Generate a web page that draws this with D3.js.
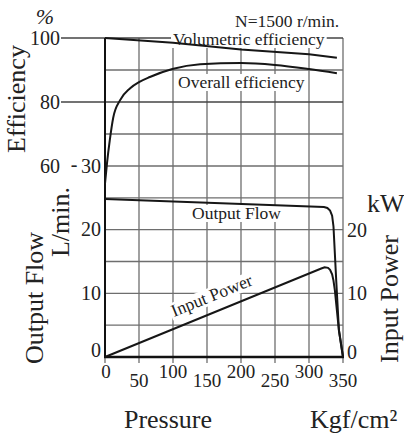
<!DOCTYPE html>
<html>
<head>
<meta charset="utf-8">
<script src="https://cdn.jsdelivr.net/npm/d3@7"></script>
<style>
  body { margin: 0; background: #fff; }
  svg text { font-family: "Liberation Serif", "Times New Roman", serif; fill: #222; }
</style>
</head>
<body>
<div id="chart"></div>
<script>
// data
var pressureTicks = [0, 50, 100, 150, 200, 250, 300, 350];
var effTicks = [60, 70, 80, 90, 100];
var flowTicks = [0, 5, 10, 15, 20, 25];

var volPressure = [0, 100, 200, 300, 341];
var volEff = [100, 98.5, 96.4, 94.9, 93.8];

var overallPressure = [0, 3, 7, 12, 22, 37, 50, 66, 99, 140, 200, 250, 300, 341];
var overallEff = [54.5, 61, 68, 75, 80.5, 84.3, 86.2, 87.8, 90.3, 91.8, 92.2, 91.6, 90.3, 89.0];

var flowPressure = [0, 322, 327, 331, 334, 336, 340, 344, 350];
var flowValues = [24.8, 23.55, 23.4, 23.0, 22.2, 20.5, 12.1, 4.2, 0];

var powerPressure = [0, 318, 323, 328, 331, 334, 336, 338, 344, 350];
var powerValues = [0, 13.9, 14.1, 14.0, 13.7, 13.0, 12.0, 10.5, 4.2, 0];

var w = 404, h = 436;
var plotL = 105, plotR = 343, plotT = 38, plotB = 357;

var svg = d3.select('#chart').append('svg')
  .attr('width', w)
  .attr('height', h);

var x = d3.scaleLinear().domain([0, 350]).range([plotL, plotR]);
var yEff = d3.scaleLinear().domain([60, 100]).range([166, plotT]);
var yFlow = d3.scaleLinear().domain([0, 30]).range([plotB, 166]);

// grid
var grid = svg.append('g').attr('stroke', '#6e6e6e').attr('stroke-width', 1.3);

grid.selectAll('.vgrid')
  .data(pressureTicks)
  .enter()
  .append('line')
    .attr('x1', d => x(d)).attr('x2', d => x(d))
    .attr('y1', plotT).attr('y2', plotB + 6);

grid.selectAll('.egrid')
  .data(effTicks)
  .enter()
  .append('line')
    .attr('x1', d => (d == 100 || d == 80) ? 61 : plotL)
    .attr('x2', plotR)
    .attr('y1', d => yEff(d)).attr('y2', d => yEff(d))
    .attr('stroke', d => (d == 100 || d == 80) ? '#444' : null);

grid.selectAll('.fgrid')
  .data(flowTicks.filter(d => d > 0))
  .enter()
  .append('line')
    .attr('x1', plotL).attr('x2', plotR)
    .attr('y1', d => yFlow(d)).attr('y2', d => yFlow(d));

// frame (left + bottom)
svg.append('line')
  .attr('x1', plotL).attr('x2', plotL).attr('y1', plotT).attr('y2', plotB)
  .attr('stroke', '#111').attr('stroke-width', 2);
svg.append('line')
  .attr('x1', plotL - 1).attr('x2', plotR + 1).attr('y1', plotB).attr('y2', plotB)
  .attr('stroke', '#111').attr('stroke-width', 2.5);

// labels with white background
function boxedLabel(txt, tx, ty, angle) {
  var g = svg.append('g')
    .attr('transform', 'translate(' + tx + ',' + ty + ') rotate(' + (angle || 0) + ')');
  var rect = g.append('rect').attr('fill', '#fff');
  var t = g.append('text')
    .attr('font-size', 17.5)
    .text(txt);
  var bb = t.node().getBBox();
  rect.attr('x', bb.x - 2).attr('y', bb.y + 2)
    .attr('width', bb.width + 4).attr('height', bb.height - 3);
  return g;
}

boxedLabel('Volumetric efficiency', 173, 45);
boxedLabel('Overall efficiency', 178, 88);
boxedLabel('Output Flow', 192, 219);
boxedLabel('Input Power', 174, 317, -22);

svg.append('text')
  .attr('x', 235).attr('y', 27)
  .attr('font-size', 17.5)
  .text('N=1500 r/min.');

// curves
var curves = svg.append('g')
  .attr('fill', 'none')
  .attr('stroke', '#161616')
  .attr('stroke-width', 2);

var volLine = d3.line().x(d => x(d[0])).y(d => yEff(d[1]));
curves.append('path').attr('d', volLine(d3.zip(volPressure, volEff)));

var overallLine = d3.line().x(d => x(d[0])).y(d => yEff(d[1])).curve(d3.curveMonotoneX);
curves.append('path').attr('d', overallLine(d3.zip(overallPressure, overallEff)));

var flowLine = d3.line().x(d => x(d[0])).y(d => yFlow(d[1]));
curves.append('path').attr('d', flowLine(d3.zip(flowPressure, flowValues)));
curves.append('path').attr('d', flowLine(d3.zip(powerPressure, powerValues)));

// left tick labels
svg.selectAll('.efflabel')
  .data([100, 80])
  .enter()
  .append('text')
    .attr('x', 60)
    .attr('y', d => yEff(d) + 6.5)
    .attr('text-anchor', 'end')
    .attr('font-size', 20)
    .text(d => d);

svg.append('text').attr('x', 60).attr('y', yEff(60) + 6.5)
  .attr('text-anchor', 'end').attr('font-size', 20).text('60');
svg.append('text').attr('x', 74).attr('y', yEff(60) + 5)
  .attr('text-anchor', 'middle').attr('font-size', 20).text('-');

svg.selectAll('.flowlabel')
  .data([30, 20, 10])
  .enter()
  .append('text')
    .attr('x', 101)
    .attr('y', d => yFlow(d) + 6.5)
    .attr('text-anchor', 'end')
    .attr('font-size', 20)
    .text(d => d);
svg.append('text').attr('x', 101).attr('y', yFlow(0))
  .attr('text-anchor', 'end').attr('font-size', 20).text('0');

// right tick labels
svg.selectAll('.powlabel')
  .data([20, 10])
  .enter()
  .append('text')
    .attr('x', 347)
    .attr('y', d => yFlow(d) + 7)
    .attr('font-size', 20)
    .text(d => d);
svg.append('text').attr('x', 347).attr('y', yFlow(0) + 2)
  .attr('font-size', 20).text('0');

// bottom tick labels, staggered
svg.selectAll('.xlabel')
  .data(pressureTicks)
  .enter()
  .append('text')
    .attr('x', d => x(d) + (d == 0 ? 1 : 0))
    .attr('y', (d, i) => i % 2 == 0 ? 378 : 387)
    .attr('text-anchor', 'middle')
    .attr('font-size', 19)
    .text(d => d);

// axis titles
svg.append('text').attr('x', 45).attr('y', 24)
  .attr('text-anchor', 'middle').attr('font-size', 22)
  .attr('font-style', 'italic').text('%');

function vTitle(txt, tx, ty) {
  svg.append('text')
    .attr('transform', 'translate(' + tx + ',' + ty + ') rotate(-90)')
    .attr('text-anchor', 'middle')
    .attr('font-size', 26)
    .text(txt);
}
vTitle('Efficiency', 25, 99);
vTitle('Output Flow', 43, 298);
vTitle('L/min.', 69, 222);
vTitle('Input Power', 398, 299);

svg.append('text').attr('x', 367).attr('y', 212).attr('font-size', 26).text('kW');
svg.append('text').attr('x', 168).attr('y', 428)
  .attr('text-anchor', 'middle').attr('font-size', 26).text('Pressure');
svg.append('text').attr('x', 310).attr('y', 428).attr('font-size', 26).text('Kgf/cm²');
</script>
</body>
</html>
